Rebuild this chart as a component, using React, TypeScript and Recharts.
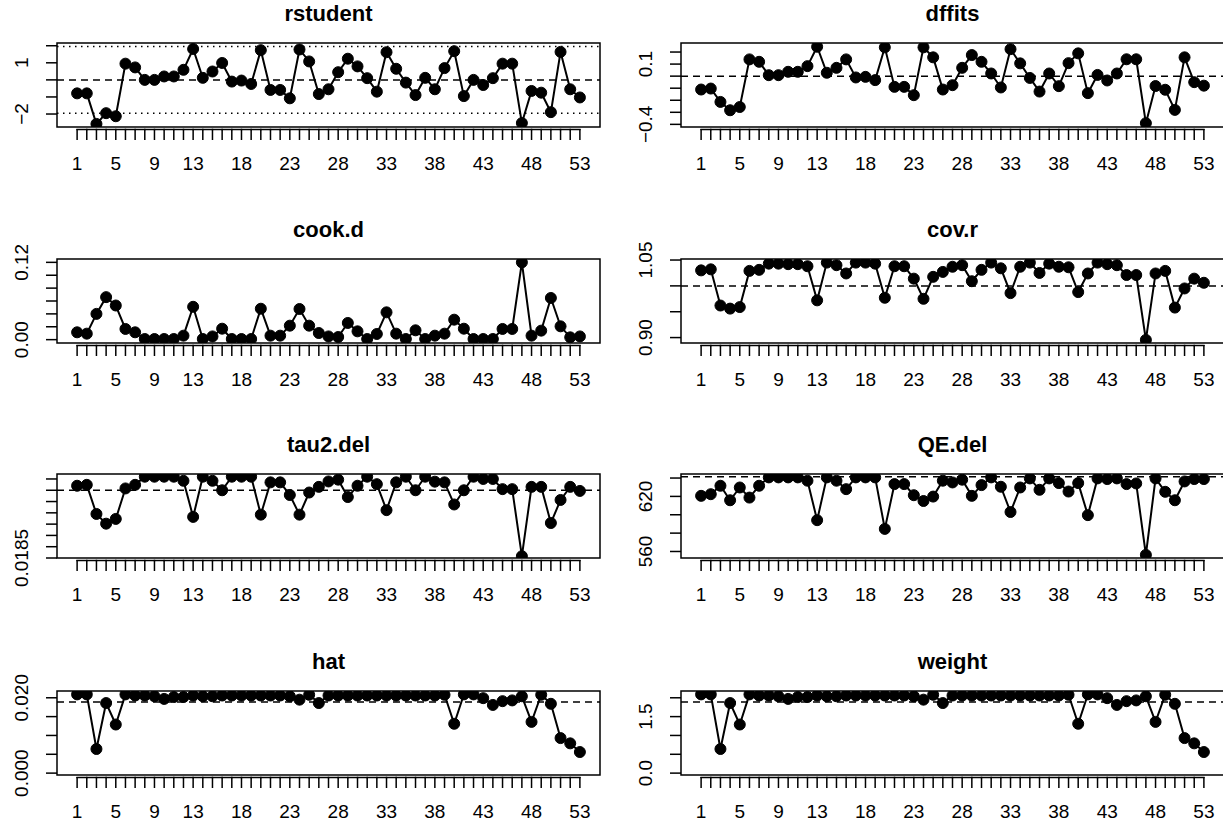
import { LineChart, Line, XAxis, YAxis, ReferenceLine, ReferenceArea } from "recharts";

const studies = Array.from({ length: 53 }, (_, i) => i + 1);
const xLabels = [1, 5, 9, 13, 18, 23, 28, 33, 38, 43, 48, 53];

const rstudent = [-0.79, -0.79, -2.58, -1.95, -2.13, 0.95, 0.73, 0, 0, 0.2, 0.2, 0.59, 1.81, 0.12, 0.49, 0.99, -0.1, -0.04, -0.24, 1.74, -0.59, -0.59, -1.08, 1.78, 1.08, -0.83, -0.55, 0.45, 1.24, 0.79, 0.1, -0.69, 1.62, 0.65, -0.16, -0.89, 0.12, -0.55, 0.69, 1.68, -0.95, 0, -0.3, 0.1, 0.95, 0.95, -2.53, -0.65, -0.75, -1.89, 1.64, -0.55, -1.03];
const dffits = [-0.111, -0.103, -0.214, -0.283, -0.256, 0.139, 0.119, 0.008, 0.008, 0.036, 0.036, 0.083, 0.244, 0.028, 0.069, 0.139, -0.011, -0.006, -0.033, 0.239, -0.089, -0.089, -0.158, 0.239, 0.156, -0.111, -0.075, 0.069, 0.175, 0.119, 0.022, -0.094, 0.224, 0.106, -0.015, -0.128, 0.022, -0.083, 0.108, 0.189, -0.141, 0.01, -0.036, 0.022, 0.14, 0.14, -0.39, -0.082, -0.113, -0.28, 0.156, -0.05, -0.079];
const cookd = [0.0114, 0.0093, 0.04, 0.066, 0.053, 0.0166, 0.0114, 0.001, 0.001, 0.001, 0.001, 0.0062, 0.051, 0.001, 0.005, 0.017, 0.001, 0.001, 0.001, 0.048, 0.0062, 0.0062, 0.0217, 0.0476, 0.0217, 0.0103, 0.005, 0.0041, 0.0259, 0.0129, 0.001, 0.0088, 0.0424, 0.0093, 0.001, 0.0145, 0.001, 0.0062, 0.0093, 0.031, 0.017, 0.001, 0.001, 0.001, 0.0166, 0.0166, 0.12, 0.0062, 0.014, 0.0647, 0.0207, 0.0036, 0.005];
const covr = [1.03, 1.032, 0.962, 0.956, 0.959, 1.029, 1.031, 1.043, 1.043, 1.042, 1.042, 1.038, 0.972, 1.045, 1.04, 1.024, 1.045, 1.045, 1.043, 0.977, 1.038, 1.038, 1.014, 0.975, 1.0175, 1.027, 1.037, 1.04, 1.009, 1.031, 1.045, 1.034, 0.986, 1.037, 1.045, 1.025, 1.043, 1.037, 1.036, 0.988, 1.024, 1.045, 1.042, 1.04, 1.021, 1.021, 0.8955, 1.024, 1.029, 0.958, 0.995, 1.014, 1.006];
const tau2del = [0.0217, 0.02174, 0.02045, 0.02002, 0.02023, 0.02158, 0.02174, 0.0221, 0.0221, 0.0221, 0.0221, 0.02192, 0.02032, 0.0221, 0.02192, 0.0215, 0.0221, 0.0221, 0.0221, 0.02042, 0.02185, 0.02185, 0.02129, 0.02042, 0.0214, 0.02165, 0.02189, 0.02197, 0.0212, 0.0217, 0.0221, 0.02177, 0.02062, 0.02185, 0.0221, 0.0215, 0.0221, 0.02188, 0.02185, 0.02087, 0.0215, 0.0221, 0.022, 0.022, 0.02155, 0.02155, 0.01858, 0.02165, 0.02165, 0.02005, 0.02107, 0.02165, 0.02147];
const qedel = [620.6, 622.4, 631.6, 615.8, 629.7, 618.7, 631.6, 640.7, 640.7, 640.7, 640.7, 637.1, 594.1, 640.7, 637.1, 627.9, 640.7, 640.7, 640.7, 584.6, 633.4, 633.4, 621.3, 615, 619.8, 637.1, 635.2, 638.2, 620.6, 632.3, 640.7, 630.5, 603, 629.7, 639.6, 627.2, 639.6, 634.5, 625.3, 634.5, 599.6, 639.6, 638.9, 639.6, 633.4, 634.1, 556.3, 639.6, 625, 615.8, 636.3, 638.9, 638.9];
const hat = [0.0209, 0.0209, 0.0064, 0.0186, 0.0129, 0.0209, 0.0206, 0.0206, 0.0204, 0.0197, 0.0202, 0.0202, 0.0206, 0.0204, 0.0204, 0.0206, 0.0206, 0.0206, 0.0206, 0.0206, 0.0206, 0.0206, 0.0204, 0.0195, 0.0208, 0.0186, 0.0206, 0.0206, 0.0206, 0.0206, 0.0206, 0.0206, 0.0206, 0.0206, 0.0206, 0.0206, 0.0206, 0.0206, 0.0208, 0.0131, 0.0209, 0.0209, 0.0199, 0.0181, 0.0191, 0.0193, 0.0204, 0.0136, 0.0208, 0.0184, 0.0093, 0.0079, 0.0056];
const weight = [2.09, 2.09, 0.64, 1.86, 1.29, 2.09, 2.06, 2.06, 2.04, 1.97, 2.02, 2.02, 2.06, 2.04, 2.04, 2.06, 2.06, 2.06, 2.06, 2.06, 2.06, 2.06, 2.04, 1.95, 2.08, 1.86, 2.06, 2.06, 2.06, 2.06, 2.06, 2.06, 2.06, 2.06, 2.06, 2.06, 2.06, 2.06, 2.08, 1.31, 2.09, 2.09, 1.99, 1.81, 1.91, 1.93, 2.04, 1.36, 2.08, 1.84, 0.93, 0.79, 0.56];

const FONT = "'Liberation Sans', Arial, Helvetica, sans-serif";
const BOX_H = 84;
const TOP_M = 43;
const CHART_H = 215;
const X_DOMAIN: [number, number] = [-1.08, 55.08];
const rowTops = [43, 259, 474, 691];

type Panel = {
  title: string;
  values: number[];
  domain: [number, number];
  ticks: number[];
  labels: string[];
  dashed?: number;
  dotted?: number[];
};

const panels: Panel[] = [
  { title: "rstudent", values: rstudent, domain: [-2.76, 2.16], ticks: [-2, -1, 0, 1, 2], labels: ["−2", "", "", "1", ""], dashed: 0, dotted: [-1.96, 1.96] },
  { title: "dffits", values: dffits, domain: [-0.422, 0.275], ticks: [-0.4, -0.3, -0.2, -0.1, 0, 0.1, 0.2], labels: ["−0.4", "", "", "", "", "0.1", ""], dashed: 0 },
  { title: "cook.d", values: cookd, domain: [-0.0052, 0.1252], ticks: [0, 0.02, 0.04, 0.06, 0.08, 0.1, 0.12], labels: ["0.00", "", "", "", "", "", "0.12"] },
  { title: "cov.r", values: covr, domain: [0.8895, 1.052], ticks: [0.9, 0.95, 1.0, 1.05], labels: ["0.90", "", "", "1.05"], dashed: 1 },
  { title: "tau2.del", values: tau2del, domain: [0.0185, 0.02222], ticks: [0.0185, 0.019, 0.0195, 0.02, 0.0205, 0.021, 0.0215, 0.022], labels: ["0.0185", "", "", "", "", "", "", ""], dashed: 0.0215 },
  { title: "QE.del", values: qedel, domain: [552.9, 644.4], ticks: [560, 580, 600, 620, 640], labels: ["560", "", "", "620", ""], dashed: 641.5 },
  { title: "hat", values: hat, domain: [-0.0005, 0.0218], ticks: [0, 0.005, 0.01, 0.015, 0.02], labels: ["0.000", "", "", "", "0.020"], dashed: 0.01887 },
  { title: "weight", values: weight, domain: [-0.05, 2.18], ticks: [0, 0.5, 1, 1.5, 2], labels: ["0.0", "", "", "1.5", ""], dashed: 1.887 },
];

function PanelChart({ p, col, row }: { p: Panel; col: number; row: number }) {
  const chartLeft = col === 0 ? 0 : 611;
  const chartW = col === 0 ? 611 : 613;
  const boxLeft = col === 0 ? 57 : 70;
  const marginRight = col === 0 ? 11 : 0;
  const boxW = chartW - boxLeft - marginRight;
  const boxTop = rowTops[row];
  const boxBottom = TOP_M + BOX_H;
  const step = boxW / (X_DOMAIN[1] - X_DOMAIN[0]);
  const data = studies.map((s, i) => ({ x: s, v: p.values[i] }));

  const YTick = (props: any) => {
    const idx = p.ticks.indexOf(props.payload.value);
    const lab = idx >= 0 ? p.labels[idx] : "";
    if (!lab) return null;
    const bx = boxLeft - 29;
    return (
      <text x={bx} y={props.y} transform={`rotate(-90, ${bx}, ${props.y})`} textAnchor="middle" fontFamily={FONT} fontSize={19} fill="#000">
        {lab}
      </text>
    );
  };

  // R style axis: ticks hang from a line running from the first to the last study
  const XTick = (props: any) => {
    const v = props.payload.value;
    const show = xLabels.includes(v);
    const last = v === studies[studies.length - 1];
    return (
      <g>
        <line x1={props.x} x2={props.x} y1={boxBottom + 2} y2={boxBottom + 13} stroke="#000" strokeWidth={1.5} />
        {!last && <line x1={props.x - 0.75} x2={props.x + step + 0.75} y1={boxBottom + 2.5} y2={boxBottom + 2.5} stroke="#000" strokeWidth={1.5} />}
        {show && (
          <text x={props.x} y={boxBottom + 43} textAnchor="middle" fontFamily={FONT} fontSize={19} fill="#000">
            {v}
          </text>
        )}
      </g>
    );
  };

  return (
    <div style={{ position: "absolute", left: chartLeft, top: boxTop - TOP_M, width: chartW, height: CHART_H }}>
      <div
        style={{
          position: "absolute",
          left: boxLeft,
          width: boxW,
          top: TOP_M - 40,
          lineHeight: "22px",
          textAlign: "center",
          fontFamily: FONT,
          fontWeight: "bold",
          fontSize: 22,
          color: "#000",
        }}
      >
        {p.title}
      </div>
      <LineChart width={chartW} height={CHART_H} data={data} margin={{ top: TOP_M, right: marginRight, bottom: CHART_H - TOP_M - BOX_H - 60, left: boxLeft - 45 }}>
        <XAxis
          dataKey="x"
          type="number"
          domain={X_DOMAIN}
          ticks={studies}
          interval={0}
          allowDataOverflow
          axisLine={false}
          tickLine={false}
          height={60}
          tick={<XTick />}
        />
        <YAxis
          type="number"
          domain={p.domain}
          ticks={p.ticks}
          interval={0}
          allowDataOverflow
          axisLine={false}
          tickLine={{ stroke: "#000", strokeWidth: 1.5 }}
          tickSize={11}
          width={45}
          tick={<YTick />}
        />
        <ReferenceArea x1={X_DOMAIN[0]} x2={X_DOMAIN[1]} y1={p.domain[0]} y2={p.domain[1]} fill="none" fillOpacity={0} stroke="#000" strokeWidth={1.5} ifOverflow="visible" />
        {p.dotted?.map((d) => (
          <ReferenceLine key={d} y={d} stroke="#000" strokeWidth={1.5} strokeDasharray="1.5 4.5" />
        ))}
        {p.dashed !== undefined && <ReferenceLine y={p.dashed} stroke="#000" strokeWidth={1.5} strokeDasharray="7 5" />}
        <Line
          dataKey="v"
          stroke="#000"
          strokeWidth={2}
          dot={{ r: 5.5, fill: "#000", stroke: "#000", strokeWidth: 1 }}
          isAnimationActive={false}
        />
      </LineChart>
    </div>
  );
}

export default function App() {
  return (
    <div style={{ position: "absolute", left: 0, top: 0, width: 1223, height: 826, overflow: "hidden", background: "#fff", fontFamily: FONT }}>
      {panels.map((p, i) => (
        <PanelChart key={p.title} p={p} col={i % 2} row={Math.floor(i / 2)} />
      ))}
    </div>
  );
}
